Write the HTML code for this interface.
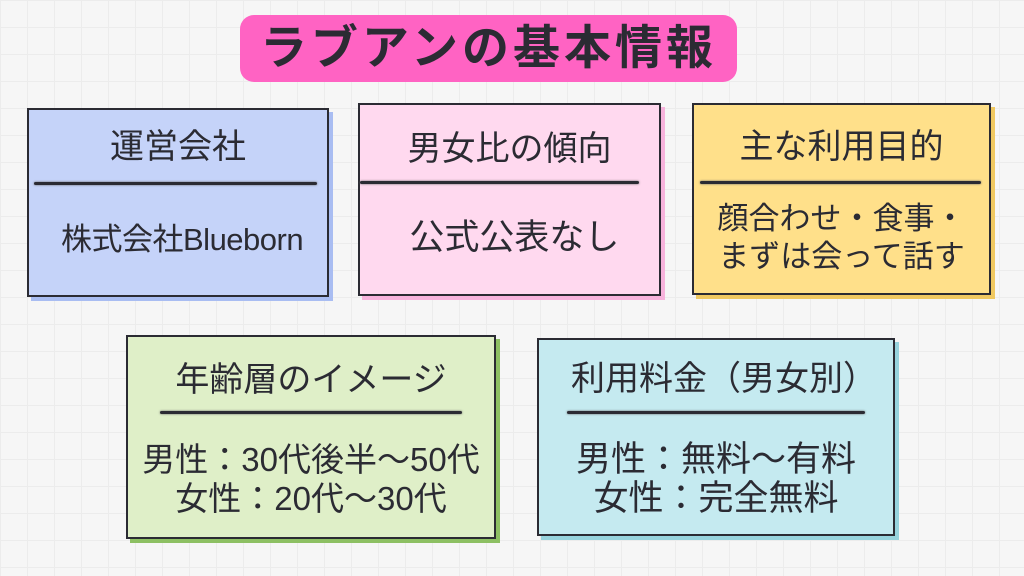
<!DOCTYPE html>
<html><head><meta charset="utf-8"><style>
body{margin:0;width:1024px;height:576px;overflow:hidden;background-color:#f6f6f6;
background-image:linear-gradient(#ececec 1px,transparent 1px),linear-gradient(90deg,#ececec 1px,transparent 1px);background-size:27px 27px;
font-family:"Liberation Sans","Noto Sans CJK JP",sans-serif;color:#2b2b33;position:relative}
.t{position:absolute;left:240px;top:15px;width:497px;height:67px;background:#ff63c3;border-radius:14px;text-align:center;font-size:47px;font-weight:bold;line-height:66px;letter-spacing:4px}
.b{position:absolute;border:2px solid #2b2b33;box-sizing:border-box;text-align:center}
.h{position:absolute;left:0;right:0;font-size:34px;line-height:40px;white-space:nowrap}
.d{position:absolute;height:3px;background:#2b2b33;border-radius:2px;box-shadow:0 0 2px #666}
.c{position:absolute;left:0;right:0;font-size:33px;line-height:39px;white-space:nowrap}
</style></head><body>
<div class="t">ラブアンの基本情報</div>

<div class="b" style="left:27px;top:108px;width:302px;height:189px;background:#c5d3f9;box-shadow:4px 4px 0 #a9bdf2">
<div class="h" style="top:17px">運営会社</div>
<div class="d" style="left:5px;right:10px;top:72px"></div>
<div class="c" style="top:110px;font-size:31px;letter-spacing:-0.5px">&nbsp;株式会社Blueborn</div></div>

<div class="b" style="left:358px;top:103px;width:303px;height:193px;background:#ffd9ef;box-shadow:4px 4px 0 #f7b3dc">
<div class="h" style="top:24px">男女比の傾向</div>
<div class="d" style="left:0;right:20px;top:76px"></div>
<div class="c" style="top:113px;font-size:35px">&nbsp;公式公表なし</div></div>

<div class="b" style="left:692px;top:103px;width:299px;height:192px;background:#ffe08a;box-shadow:4px 4px 0 #f0c860">
<div class="h" style="top:22px">主な利用目的</div>
<div class="d" style="left:6px;right:8px;top:76px"></div>
<div class="c" style="top:95px;font-size:31px;line-height:38px">顔合わせ・食事・<br>まずは会って話す</div></div>

<div class="b" style="left:126px;top:335px;width:370px;height:204px;background:#dfefc8;box-shadow:4px 4px 0 #8dc063">
<div class="h" style="top:23px">年齢層のイメージ</div>
<div class="d" style="left:32px;right:32px;top:74px"></div>
<div class="c" style="top:103px">男性：30代後半〜50代<br>女性：20代〜30代</div></div>

<div class="b" style="left:537px;top:338px;width:358px;height:198px;background:#c5eaf0;box-shadow:4px 4px 0 #97d3dd">
<div class="h" style="top:19px;left:16px">利用料金（男女別）</div>
<div class="d" style="left:28px;right:28px;top:71px"></div>
<div class="c" style="top:100px;font-size:35px">男性：無料〜有料<br>女性：完全無料</div></div>
</body></html>
